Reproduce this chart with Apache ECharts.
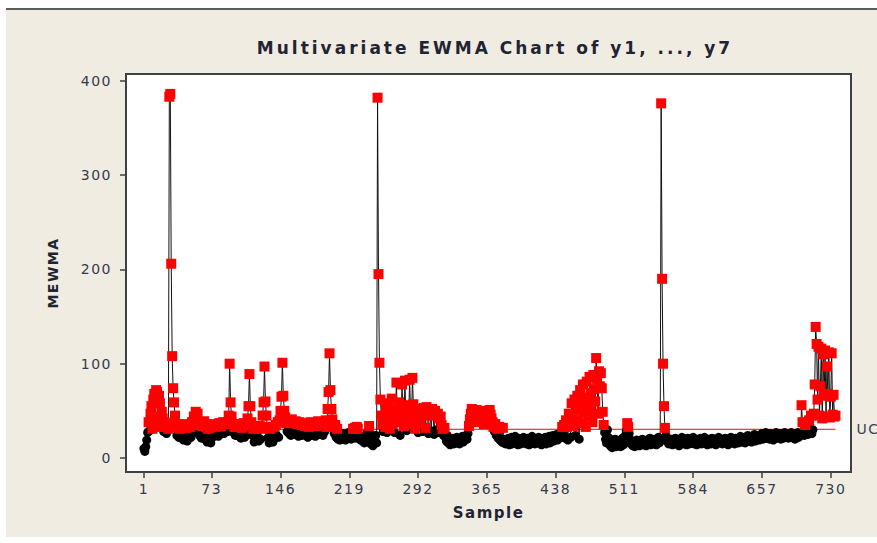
<!DOCTYPE html>
<html>
<head>
<meta charset="utf-8">
<script src="https://cdn.jsdelivr.net/npm/echarts@6/dist/echarts.min.js"></script>
<style>
  html, body { margin: 0; padding: 0; background: #ffffff; }
  #chart { width: 877px; height: 543px; letter-spacing: 1.5px; }
</style>
</head>
<body>
<div id="chart"></div>
<script>
// Axis tick positions and labels
const xTicks = [1, 73, 146, 219, 292, 365, 438, 511, 584, 657, 730];
const yTicks = [0, 100, 200, 300, 400];

// Upper control limit of the MEWMA statistic
const ucl = 30.5;

// MEWMA statistic per sample, in consecutive blocks of samples
const mewma_001_027 = [10, 7, 12, 19, 27, 38, 29, 47, 55, 31, 62, 68, 44, 72, 70, 36, 66, 58, 33, 49, 42, 28, 38, 34, 26, 36, 31];
const mewma_028_040 = [383, 386, 206, 108, 74, 59, 45, 36, 24, 33, 22, 31, 25];
const mewma_041_085 = [
  21, 34, 19, 36, 23, 32, 18, 35, 25, 33,
  22, 38, 27, 44, 30, 49, 41, 47, 35, 24,
  37, 21, 34, 26, 39, 20, 33, 17, 31, 19,
  32, 16, 34, 22, 36, 24, 33, 26, 35, 23,
  37, 25, 34, 27, 38];
const mewma_086_100 = [26, 36, 29, 38, 28, 45, 100, 59, 44, 36, 27, 33, 24, 36, 26];
const mewma_101_160 = [
  33, 23, 35, 21, 32, 25, 37, 22, 34, 27,
  42, 55, 89, 55, 38, 24, 31, 17, 33, 19,
  32, 21, 18, 34, 20, 31, 45, 59, 97, 60,
  45, 33, 22, 16, 31, 19, 28, 17, 33, 21,
  35, 24, 38, 22, 40, 50, 65, 101, 66, 50,
  43, 37, 28, 40, 26, 38, 24, 41, 29, 37];
const mewma_161_240 = [
  25, 39, 27, 36, 23, 38, 26, 35, 24, 37,
  28, 34, 25, 36, 22, 33, 27, 38, 24, 35,
  26, 37, 23, 34, 28, 39, 25, 36, 27, 38,
  24, 35, 28, 40, 33, 52, 70, 111, 72, 52,
  41, 33, 26, 35, 22, 31, 20, 27, 19, 24,
  21, 26, 20, 23, 19, 25, 22, 27, 21, 24,
  20, 26, 31, 22, 32, 21, 33, 31, 24, 22,
  19, 23, 18, 21, 16, 24, 20, 27, 22, 34];
const mewma_241_260 = [26, 15, 20, 13, 22, 18, 24, 16, 382, 195, 101, 62, 45, 36, 28, 41, 33, 52, 27, 44];
const mewma_261_320 = [
  58, 31, 44, 63, 36, 52, 27, 45, 80, 48,
  38, 59, 24, 43, 78, 50, 34, 82, 47, 29,
  56, 40, 83, 52, 36, 85, 57, 42, 31, 48,
  37, 27, 44, 39, 52, 46, 28, 53, 49, 32,
  54, 47, 26, 51, 45, 29, 52, 48, 25, 50,
  46, 30, 47, 42, 27, 44, 35, 31, 24, 32];
const mewma_321_345 = [22, 18, 24, 16, 20, 14, 19, 17, 21, 15, 18, 16, 22, 17, 19, 15, 20, 18, 23, 17, 21, 19, 24, 20, 26];
const mewma_346_385 = [
  34, 41, 47, 52, 49, 44, 38, 46, 51, 47,
  43, 39, 45, 50, 46, 41, 36, 44, 49, 45,
  40, 47, 51, 46, 42, 38, 33, 28, 36, 24,
  31, 21, 33, 19, 30, 17, 32, 16, 20, 15];
const mewma_386_445 = [
  19, 16, 21, 14, 18, 22, 15, 20, 17, 23,
  16, 19, 14, 21, 18, 15, 20, 17, 22, 16,
  19, 15, 21, 18, 14, 20, 17, 23, 16, 19,
  15, 21, 18, 16, 22, 17, 20, 14, 19, 21,
  17, 22, 15, 20, 18, 23, 16, 21, 19, 24,
  18, 22, 20, 25, 19, 23, 21, 27, 24, 33];
const mewma_446_492 = [
  26, 35, 21, 40, 33, 19, 47, 38, 22, 58,
  43, 34, 62, 24, 51, 66, 40, 20, 72, 55,
  37, 78, 48, 64, 33, 81, 58, 44, 86, 69,
  52, 38, 88, 73, 60, 106, 84, 47, 92, 76,
  90, 74, 49, 35, 27, 20, 16];
const mewma_493_554 = [
  30, 22, 17, 13, 19, 11, 16, 14, 20, 12,
  17, 15, 13, 19, 12, 16, 21, 14, 18, 24,
  29, 37, 33, 26, 20, 15, 18, 13, 17, 12,
  16, 19, 14, 18, 13, 17, 15, 20, 14, 18,
  16, 13, 19, 15, 17, 21, 14, 18, 16, 20,
  15, 19, 14, 17, 22, 16, 18,
  376, 190, 100, 55, 32];
const mewma_555_700 = [
  24, 18, 21, 15, 19, 16, 20, 14, 18, 17,
  21, 15, 19, 16, 13, 20, 17, 22, 15, 18,
  16, 19, 14, 21, 17, 15, 20, 16, 18, 22,
  15, 19, 17, 14, 20, 18, 16, 21, 15, 19,
  17, 22, 16, 18, 14, 20, 17, 19, 15, 21,
  18, 16, 20, 14, 19, 17, 22, 16, 18, 20,
  15, 19, 17, 21, 16, 18, 14, 20, 17, 22,
  16, 19, 18, 15, 21, 17, 20, 16, 19, 23,
  17, 20, 18, 22, 16, 21, 19, 24, 18, 20,
  22, 17, 21, 19, 25, 18, 22, 20, 24, 19,
  23, 21, 26, 20, 24, 22, 27, 21, 25, 23,
  20, 26, 22, 24, 19, 25, 23, 27, 21, 24,
  22, 26, 20, 25, 23, 21, 27, 22, 24, 26,
  21, 25, 23, 27, 22, 26, 24, 20, 25, 23,
  27, 22, 26, 24, 56, 38];
const mewma_701_735 = [
  26, 24, 35, 27, 29, 25, 40, 28, 45, 26,
  30, 47, 78, 139, 121, 62, 118, 45, 76, 116,
  42, 110, 66, 114, 44, 97, 68, 112, 43, 65,
  111, 46, 67, 44, 45];

const mewma = [].concat(
  mewma_001_027, mewma_028_040, mewma_041_085, mewma_086_100, mewma_101_160,
  mewma_161_240, mewma_241_260, mewma_261_320, mewma_321_345, mewma_346_385,
  mewma_386_445, mewma_446_492, mewma_493_554, mewma_555_700, mewma_701_735
);

// (sample number, statistic) pairs; points above the limit are flagged
const allPoints = mewma.map((v, i) => [i + 1, v]);
const inControl = allPoints.filter(p => p[1] <= ucl);
const outOfControl = allPoints.filter(p => p[1] > ucl);
const uclLine = [[1, ucl], [mewma.length, ucl]];

const labelFont = 'DejaVu Sans';
const inkColor = '#1f2433';
const titleText = 'Multivariate EWMA Chart of y1, ..., y7';

const chart = echarts.init(document.getElementById('chart'), null, { renderer: 'svg' });
chart.setOption({
  animation: false,
  backgroundColor: '#f0ece1',
  graphic: [
    { type: 'rect', silent: true, shape: { x: 0, y: 0, width: 877, height: 8 }, style: { fill: '#ffffff' } },
    { type: 'rect', silent: true, shape: { x: 0, y: 0, width: 6, height: 543 }, style: { fill: '#ffffff' } },
    { type: 'rect', silent: true, shape: { x: 0, y: 537, width: 877, height: 6 }, style: { fill: '#ffffff' } },
    { type: 'line', silent: true, shape: { x1: 6, y1: 9, x2: 877, y2: 9 }, style: { stroke: '#5b5b5b', lineWidth: 2 } }
  ],
  title: {
    text: titleText,
    left: 490,
    top: 34,
    textAlign: 'center',
    textStyle: { fontFamily: labelFont, fontWeight: 'bold', fontSize: 17, color: inkColor }
  },
  grid: {
    left: 126, top: 74, right: 26, bottom: 71,
    show: true, backgroundColor: '#ffffff', borderColor: '#404040', borderWidth: 2
  },
  xAxis: {
    type: 'value',
    min: -18, max: 751.5,
    name: 'Sample',
    nameLocation: 'middle',
    nameGap: 33,
    nameTextStyle: { fontFamily: labelFont, fontWeight: 'bold', fontSize: 15, color: inkColor },
    axisLine: { show: false, onZero: false },
    axisTick: { show: true, length: 6, customValues: xTicks, lineStyle: { color: '#404040', width: 1.5 } },
    axisLabel: { customValues: xTicks, margin: 10, fontFamily: labelFont, fontSize: 14, color: '#363b4c' },
    splitLine: { show: false }
  },
  yAxis: {
    type: 'value',
    min: -14.8, max: 407.1,
    name: 'MEWMA',
    nameLocation: 'middle',
    nameGap: 66,
    nameTextStyle: { fontFamily: labelFont, fontWeight: 'bold', fontSize: 14, color: inkColor },
    axisLine: { show: false, onZero: false },
    axisTick: { show: true, length: 6, customValues: yTicks, lineStyle: { color: '#404040', width: 1.5 } },
    axisLabel: { customValues: yTicks, margin: 14, fontFamily: labelFont, fontSize: 14, color: '#363b4c' },
    splitLine: { show: false }
  },
  series: [
    {
      name: 'UCL',
      type: 'line',
      data: uclLine,
      symbol: 'none',
      silent: true,
      lineStyle: { color: '#ff0000', width: 1 },
      z: 1,
      endLabel: { show: true, formatter: 'UCL', distance: 21, fontFamily: labelFont, fontSize: 14, color: '#3a4256' }
    },
    {
      name: 'MEWMA',
      type: 'line',
      data: allPoints,
      symbol: 'none',
      silent: true,
      lineStyle: { color: '#111111', width: 1 },
      z: 2
    },
    {
      type: 'scatter',
      data: inControl,
      symbol: 'circle',
      symbolSize: 9,
      silent: true,
      itemStyle: { color: '#000000', opacity: 1 },
      z: 3
    },
    {
      type: 'scatter',
      data: outOfControl,
      symbol: 'rect',
      symbolSize: 10,
      silent: true,
      itemStyle: { color: '#ff0000', opacity: 1 },
      z: 4
    }
  ]
});

// Wider tracking for the heading
document.querySelectorAll('#chart text').forEach(t => {
  if (t.textContent === titleText) t.style.letterSpacing = '3px';
});
</script>
</body>
</html>
